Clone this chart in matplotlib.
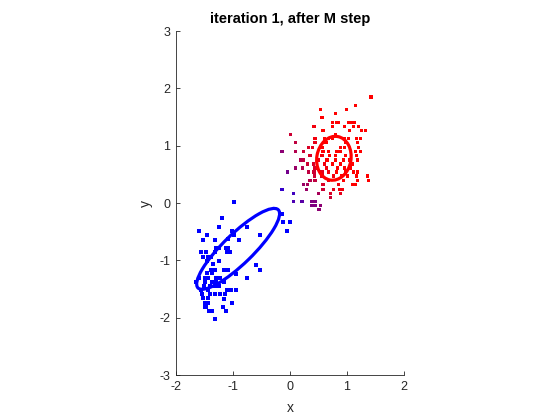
import matplotlib
matplotlib.use("Agg")
import matplotlib.pyplot as plt
from matplotlib.patches import Ellipse

plt.rcParams['font.family'] = ['Liberation Sans', 'DejaVu Sans']
plt.rcParams['axes.unicode_minus'] = False

# Points of the lower-left (blue) cluster
x_blue = [-0.98, -1.19, -1.25, -1.60, -1.46, -1.01, -0.98, -1.08, -0.89, -0.75, -0.53,
          -1.53, -1.32, -1.30, -1.25, -1.12, -1.08, -1.57, -1.47, -1.32, -1.10, -1.05,
          -1.53, -1.44, -1.39, -1.24, -1.46, -1.35, -0.60, -0.53, -1.39, -1.32, -1.15, -1.08,
          -1.45, -1.37, -0.95, -0.76, -1.60, -1.50, -1.43, -1.30, -1.23, -1.65,
          -1.50, -1.37, -1.29, -1.15, -1.51, -1.40, -1.32, -1.25,
          -1.57, -1.44, -1.10, -1.03, -0.95, -1.54, -1.40, -1.31, -1.23, -1.14,
          -1.52, -1.44, -1.15, -1.01, -1.50, -1.43, -1.50, -1.47, -1.18, -1.42, -1.37, -1.13,
          -1.32, -0.14, -0.06, 0.00, -0.13]
y_blue = [0.02, -0.27, -0.42, -0.49, -0.56, -0.49, -0.55, -0.63, -0.65, -0.42, -0.56,
          -0.65, -0.65, -0.78, -0.78, -0.78, -0.78, -0.85, -0.85, -0.85, -0.85, -0.85,
          -0.94, -0.94, -0.94, -1.01, -1.01, -1.06, -1.08, -1.16, -1.16, -1.16, -1.16, -1.16,
          -1.22, -1.22, -1.23, -1.30, -1.30, -1.30, -1.30, -1.30, -1.30, -1.37,
          -1.37, -1.37, -1.37, -1.37, -1.45, -1.45, -1.45, -1.45,
          -1.52, -1.52, -1.52, -1.52, -1.52, -1.59, -1.59, -1.59, -1.59, -1.59,
          -1.66, -1.66, -1.67, -1.74, -1.74, -1.74, -1.81, -1.81, -1.81, -1.89, -1.89, -1.89,
          -2.03, -0.19, -0.49, -0.34, -0.34]

# Points of the upper-right cluster with their red responsibility
pts_red = [
    (1.42, 1.85, 1), (1.15, 1.70, 1), (0.53, 1.63, 1), (0.99, 1.63, 1), (0.80, 1.56, 1), (0.56, 1.49, 1),
    (0.74, 1.41, 1), (0.82, 1.41, 1), (0.85, 1.41, 1), (1.02, 1.41, 1), (1.08, 1.41, 1), (1.13, 1.41, 1),
    (0.42, 1.34, 0.95), (0.74, 1.34, 1), (0.96, 1.34, 1), (1.12, 1.34, 1), (1.20, 1.34, 1),
    (0.58, 1.27, 1), (1.05, 1.27, 1), (1.26, 1.27, 1), (1.32, 1.27, 1),
    (0.01, 1.19, 0.8), (0.80, 1.19, 1),
    (0.44, 1.12, 0.95), (0.60, 1.12, 1), (0.68, 1.12, 1), (0.74, 1.12, 1), (0.96, 1.12, 1), (1.03, 1.12, 1),
    (1.17, 1.12, 1), (1.23, 1.12, 1),
    (0.09, 1.05, 0.75), (0.44, 1.05, 0.9), (0.62, 1.05, 1), (0.64, 1.05, 1), (0.97, 1.05, 1), (1.18, 1.05, 1),
    (0.33, 0.97, 0.85), (0.39, 0.97, 0.9), (0.56, 0.97, 1), (0.89, 0.97, 1), (0.95, 0.97, 1), (1.20, 0.97, 1),
    (-0.14, 0.90, 0.55), (0.09, 0.90, 0.7), (0.23, 0.90, 0.8), (0.58, 0.90, 1), (0.68, 0.90, 1),
    (0.82, 0.90, 1), (0.85, 0.90, 1), (0.89, 0.90, 1), (1.15, 0.90, 1), (1.23, 0.90, 1),
    (0.35, 0.83, 0.85), (0.56, 0.83, 0.95), (0.70, 0.83, 1), (0.80, 0.83, 1), (0.97, 0.83, 1), (1.17, 0.83, 1),
    (0.18, 0.75, 0.7), (0.23, 0.75, 0.75), (0.50, 0.75, 0.9), (0.65, 0.75, 1), (0.80, 0.75, 1),
    (0.94, 0.75, 1), (1.05, 0.75, 1), (1.18, 0.75, 1),
    (0.30, 0.68, 0.8), (0.41, 0.68, 0.85), (0.60, 0.68, 0.95), (0.74, 0.68, 1), (0.89, 0.68, 1), (1.09, 0.68, 1),
    (0.09, 0.61, 0.6), (0.22, 0.61, 0.7), (0.44, 0.61, 0.85), (0.64, 0.61, 0.95), (0.84, 0.61, 1),
    (0.96, 0.61, 1), (1.06, 0.61, 1),
    (-0.05, 0.54, 0.45), (0.32, 0.54, 0.75), (0.42, 0.54, 0.8), (0.56, 0.54, 0.9), (0.67, 0.54, 0.95),
    (0.82, 0.54, 1), (0.97, 0.54, 1), (1.12, 0.54, 1), (1.18, 0.54, 1),
    (0.43, 0.47, 0.8), (0.56, 0.47, 0.85), (0.77, 0.47, 0.95), (0.91, 0.47, 1), (1.01, 0.47, 1),
    (1.16, 0.47, 1), (1.36, 0.47, 1),
    (0.35, 0.39, 0.7), (0.44, 0.39, 0.75), (0.68, 0.39, 0.9), (0.94, 0.39, 1), (1.18, 0.39, 1), (1.38, 0.39, 1),
    (0.23, 0.32, 0.6), (0.30, 0.32, 0.65), (0.58, 0.32, 0.85), (0.85, 0.32, 0.95), (1.10, 0.32, 1), (1.15, 0.32, 1),
    (-0.14, 0.24, 0.2), (0.29, 0.24, 0.6), (0.58, 0.24, 0.8), (0.76, 0.24, 0.9), (0.87, 0.24, 0.95),
    (0.92, 0.24, 0.95),
    (0.06, 0.17, 0.25), (0.50, 0.17, 0.65), (0.71, 0.17, 0.85), (0.88, 0.17, 0.9),
    (0.71, 0.10, 0.8),
    (0.06, 0.02, 0.3), (0.21, 0.02, 0.35), (0.37, 0.02, 0.5), (0.44, 0.02, 0.5),
    (0.37, -0.05, 0.5), (0.44, -0.05, 0.5), (0.53, -0.05, 0.55),
    (0.51, -0.12, 0.55),
]
x_red = [p[0] for p in pts_red]
y_red = [p[1] for p in pts_red]
resp_red = [p[2] for p in pts_red]

# Gaussian component ellipses: centre, axis lengths, angle
blue_center = (-0.91, -0.80)
blue_axes = (1.96, 0.52)
blue_angle = 44
red_center = (0.77, 0.78)
red_axes = (0.77, 0.60)
red_angle = 80

xticks = [-2, -1, 0, 1, 2]
yticks = [-3, -2, -1, 0, 1, 2, 3]

fig = plt.figure(figsize=(5.6, 4.2), dpi=100)
ax = fig.add_axes([176/560, 45/420, 228/560, 344/420])

axcol = (0.15, 0.15, 0.15)
ax.scatter(x_blue, y_blue, s=5.2, marker='s', c=[(0, 0, 1)], linewidths=0)
ax.scatter(x_red, y_red, s=5.2, marker='s', c=[(r, 0, 1 - r) for r in resp_red], linewidths=0)

ax.add_patch(Ellipse(blue_center, blue_axes[0], blue_axes[1], angle=blue_angle,
                     fill=False, edgecolor=(0, 0, 1), linewidth=2.3))
ax.add_patch(Ellipse(red_center, red_axes[0], red_axes[1], angle=red_angle,
                     fill=False, edgecolor=(1, 0, 0), linewidth=2.3))

ax.set_xlim(-2, 2)
ax.set_ylim(-3, 3)
ax.set_xticks(xticks)
ax.set_yticks(yticks)
ax.spines['top'].set_visible(False)
ax.spines['right'].set_visible(False)
for s in ['left', 'bottom']:
    ax.spines[s].set_color(axcol)
    ax.spines[s].set_linewidth(0.6)
ax.tick_params(direction='in', length=3, width=0.6, color=axcol, labelcolor=axcol, labelsize=9,
               pad=4)
ax.set_xlabel('x', fontsize=10, color=axcol, labelpad=6)
ax.set_ylabel('y', fontsize=10, color=axcol, labelpad=5)
ax.set_title('iteration 1, after M step', fontsize=10.5, fontweight='bold', pad=6)

fig.savefig('out.png', dpi=100, facecolor='white')
